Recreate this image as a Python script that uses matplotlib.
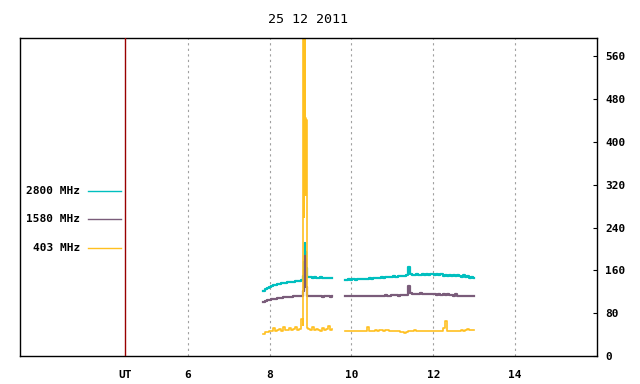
import matplotlib
matplotlib.use("Agg")
import matplotlib.pyplot as plt

# first observing block (morning), hours UT
t1 = [7.85, 7.90, 7.95, 8.00, 8.05, 8.10, 8.15, 8.20, 8.25, 8.30,
      8.35, 8.40, 8.45, 8.50, 8.55, 8.60, 8.65, 8.70, 8.75, 8.80,
      8.81, 8.82, 8.83, 8.84, 8.85, 8.86, 8.87, 8.88, 8.89, 8.90,
      8.91, 8.92, 8.93,
      8.95, 9.00, 9.05, 9.10, 9.15, 9.20, 9.25, 9.30, 9.35, 9.40,
      9.45, 9.50, 9.53]
f2800_1 = [122, 125, 127, 129, 131, 132, 133, 134, 135, 136,
           137, 137, 138, 138, 139, 139, 140, 140, 141, 142,
           144, 146, 150, 158, 175, 200, 211, 185, 195, 165,
           155, 150, 148,
           147, 147, 146, 147, 146, 146, 147, 146, 145, 146,
           145, 146, 145]
f1580_1 = [101, 103, 104, 105, 106, 107, 107, 108, 109, 109,
           110, 110, 111, 111, 111, 112, 112, 112, 113, 113,
           115, 118, 122, 135, 160, 187, 170, 182, 150, 128,
           118, 114, 113,
           112, 112, 112, 113, 112, 112, 112, 111, 112, 112,
           112, 111, 112]
f403_1 = [42, 44, 45, 47, 46, 52, 47, 48, 50, 47,
          55, 48, 49, 52, 48, 50, 54, 49, 51, 70,
          58, 150, 640, 260, 640, 390, 640, 445, 300, 440,
          110, 72, 52,
          50, 48, 55, 49, 51, 48, 47, 53, 48, 50,
          56, 49, 50]

# second observing block
t2 = [9.85, 9.90, 9.95, 10.00, 10.05, 10.10, 10.15, 10.20, 10.25, 10.30,
      10.35, 10.40, 10.45, 10.50, 10.55, 10.60, 10.65, 10.70, 10.75, 10.80,
      10.85, 10.90, 10.95, 11.00, 11.05, 11.10, 11.15, 11.20, 11.25, 11.30,
      11.35, 11.40, 11.45, 11.50, 11.55, 11.60, 11.65, 11.70, 11.75, 11.80,
      11.85, 11.90, 11.95, 12.00, 12.05, 12.10, 12.15, 12.20, 12.25, 12.30,
      12.35, 12.40, 12.45, 12.50, 12.55, 12.60, 12.65, 12.70, 12.75, 12.80,
      12.85, 12.90, 12.95, 13.00]
f2800_2 = [142, 142, 143, 142, 143, 142, 143, 144, 143, 144,
           144, 144, 145, 144, 145, 145, 146, 145, 147, 146,
           147, 148, 147, 148, 149, 148, 149, 150, 149, 150,
           151, 167, 153, 152, 151, 153, 152, 151, 154, 152,
           153, 151, 154, 153, 152, 154, 151, 153, 150, 152,
           149, 152, 150, 151, 149, 152, 150, 148, 151, 147,
           150, 146, 148, 146]
f1580_2 = [112, 112, 112, 112, 112, 113, 112, 112, 112, 112,
           113, 112, 112, 112, 113, 113, 113, 113, 113, 113,
           114, 113, 113, 114, 114, 114, 113, 114, 114, 114,
           114, 130, 117, 116, 116, 116, 115, 117, 116, 115,
           116, 115, 116, 116, 115, 114, 116, 114, 115, 114,
           115, 114, 114, 113, 115, 113, 113, 112, 112, 112,
           112, 113, 112, 112]
f403_2 = [46, 46, 46, 46, 46, 46, 47, 46, 47, 46,
          46, 54, 47, 47, 46, 48, 47, 49, 48, 47,
          49, 48, 47, 46, 47, 46, 46, 45, 44, 43,
          44, 46, 47, 46, 48, 47, 46, 47, 46, 46,
          47, 46, 47, 47, 46, 47, 46, 47, 52, 65,
          46, 47, 46, 47, 46, 47, 47, 48, 47, 49,
          50, 49, 48, 48]

labels = ["2800 MHz", "1580 MHz", "403 MHz"]
colors = ["#00bfbf", "#7a5c7a", "#ffc020"]
widths = [1.6, 1.6, 1.2]
ut_pos = 4.47
xticks = [6, 8, 10, 12, 14]
yticks = [0, 80, 160, 240, 320, 400, 480, 560]

plt.rcParams['font.family'] = 'DejaVu Sans Mono'
plt.rcParams['font.weight'] = 'bold'
plt.rcParams['font.size'] = 8

fig = plt.figure(figsize=(6.4, 3.84), dpi=100)
ax = fig.add_axes([20 / 640, 28 / 384, 577 / 640, 318 / 384])

for d1, d2, c, w in zip([f2800_1, f1580_1, f403_1], [f2800_2, f1580_2, f403_2], colors, widths):
    ax.plot(t1, d1, color=c, lw=w, drawstyle='steps-mid')
    ax.plot(t2, d2, color=c, lw=w, drawstyle='steps-mid')

ax.axvline(ut_pos, color="#990000", lw=1.0, zorder=3)

ax.set_xlim(1.9, 16.0)
ax.set_ylim(0, 594)

ax.set_xticks([ut_pos] + xticks)
ax.set_xticklabels(["UT"] + [str(x) for x in xticks])
ax.tick_params(axis='x', length=0, pad=10)
for x in xticks:
    ax.axvline(x, color="#a0a0a0", lw=0.8, ls=(0, (2, 3)), zorder=0)

ax.yaxis.tick_right()
ax.set_yticks(yticks)
ax.tick_params(axis='y', direction='in', length=3, pad=6)

for sp in ax.spines.values():
    sp.set_linewidth(1.0)

ax.set_title("25 12 2011", pad=11)

# legend, right-aligned text with sample line after it
for i, (lab, c) in enumerate(zip(labels, colors)):
    yy = 0.519 - i * 0.0895
    ax.text(0.104, yy, lab, transform=ax.transAxes, ha='right', va='center')
    ax.plot([0.118, 0.175], [yy, yy], color=c, lw=1.0, transform=ax.transAxes)

fig.savefig("out.png", dpi=100)
